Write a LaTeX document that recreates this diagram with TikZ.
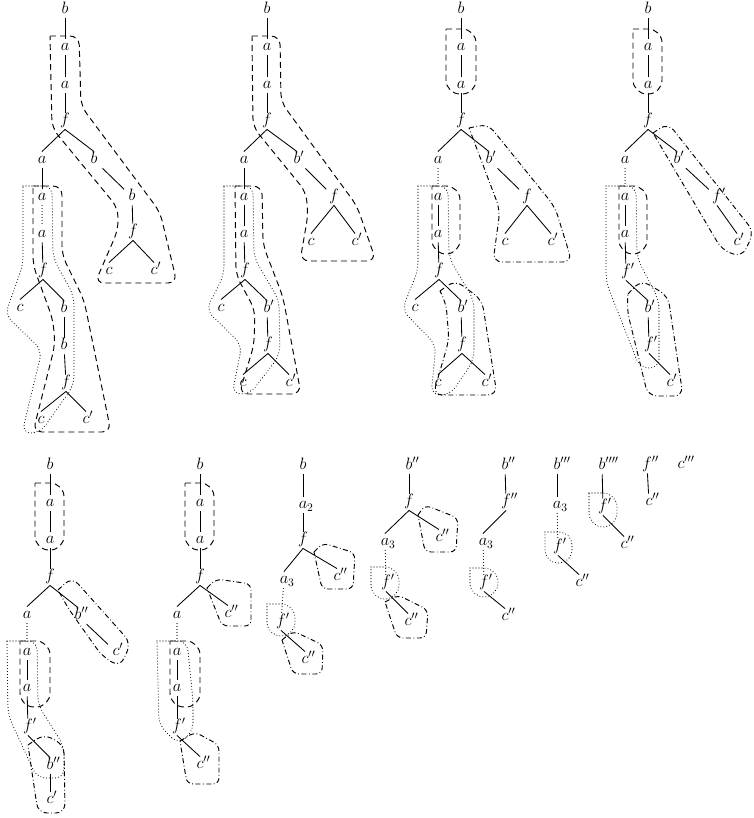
\RequirePackage{fix-cm}
\documentclass[tikz,border=0pt]{standalone}
\tikzset{
  tn/.style={inner sep=1pt, text height=11pt, text depth=3.5pt, font=\fontsize{16.5}{20}\selectfont},
  e/.style={line width=0.85pt},
  edot/.style={line width=1.1pt, line cap=round, dash pattern=on 0pt off 3pt},
  reg/.style={line width=0.95pt, rounded corners=9pt},
  sreg/.style={line width=0.95pt, rounded corners=6pt},
  dsh/.style={dash pattern=on 6pt off 4pt},
  dtt/.style={line cap=round, line width=1.1pt, dash pattern=on 0pt off 3pt},
  ddt/.style={dash pattern=on 5pt off 2.5pt on 0.8pt off 2.5pt},
  ov/.style={line width=0.95pt, rounded corners=14pt},
}
\newcommand\lbp[2]{$#1\rlap{$#2$}$}
\newcommand\tbr[2]{\draw[e] (#1.south) -- (#2.north);}
\newcommand\tch[2]{\draw[e] (#1) -- (#2);}
\newcommand\tdg[2]{\draw[e, shorten <=12pt, shorten >=11pt] (#1.center) -- (#2.center);}
\newcommand\tdt[2]{\draw[edot] (#1) -- (#2);}
\begin{document}
\begin{tikzpicture}[x=1pt,y=-1pt]
\useasboundingbox (0,0) rectangle (753,818);
% ---------- Tree 1
\node[tn] (A0) at (65,10) {$b$};
\node[tn] (A1) at (65,47) {$a$};
\node[tn] (A2) at (65,85) {$a$};
\node[tn] (A3) at (65,121) {$f$};
\node[tn] (A4) at (42,160) {$a$};
\node[tn] (A5) at (94,160) {$b$};
\node[tn] (A6) at (132,197) {$b$};
\node[tn] (A7) at (133,232) {$f$};
\node[tn] (A8) at (109,271) {$c$};
\node[tn] (A9) at (154,271) {\lbp{c}{'}};
\node[tn] (A10) at (42,197) {$a$};
\node[tn] (A11) at (42,234) {$a$};
\node[tn] (A12) at (43,271) {$f$};
\node[tn] (A13) at (20,308) {$c$};
\node[tn] (A14) at (64,309) {$b$};
\node[tn] (A15) at (64,346) {$b$};
\node[tn] (A16) at (66,383) {$f$};
\node[tn] (A17) at (41,420) {$c$};
\node[tn] (A18) at (86,420) {\lbp{c}{'}};
\tch{A0}{A1}\tch{A1}{A2}\tch{A2}{A3}\tbr{A3}{A4}\tbr{A3}{A5}\tdg{A5}{A6}\tch{A6}{A7}
\tbr{A7}{A8}\tbr{A7}{A9}\tch{A4}{A10}\tdt{A10}{A11}\tch{A11}{A12}\tbr{A12}{A13}\tbr{A12}{A14}
\tch{A14}{A15}\tch{A15}{A16}\tbr{A16}{A17}\tbr{A16}{A18}
\draw[reg,dsh] (50,36) -- (79,36) -- (81,106) -- (160,212) -- (177,283) -- (95,283) -- (118,230) -- (118,208) -- (52,128) -- (50,36);
\draw[reg,dsh] (33,186) -- (62,186) -- (62,255) -- (84,300) -- (111,432) -- (33,432) -- (55,345) -- (53,320) -- (33,265) -- (33,186);
\draw[reg,dtt] (23,186) -- (52,186) -- (53,258) -- (74,296) -- (74,385) -- (40,433) -- (22,433) -- (42,350) -- (5,315) -- (23,265) -- (23,186);
% ---------- Tree 2
\node[tn] (B0) at (267,10) {$b$};
\node[tn] (B1) at (267,47) {$a$};
\node[tn] (B2) at (267,85) {$a$};
\node[tn] (B3) at (267,121) {$f$};
\node[tn] (B4) at (244,160) {$a$};
\node[tn] (B5) at (297,160) {\lbp{b}{'}};
\node[tn] (B6) at (334,197) {$f$};
\node[tn] (B7) at (311,242) {$c$};
\node[tn] (B8) at (355,242) {\lbp{c}{'}};
\node[tn] (B9) at (244,197) {$a$};
\node[tn] (B10) at (244,234) {$a$};
\node[tn] (B11) at (245,271) {$f$};
\node[tn] (B12) at (221,308) {$c$};
\node[tn] (B13) at (267,309) {\lbp{b}{'}};
\node[tn] (B14) at (268,345) {$f$};
\node[tn] (B15) at (243,383) {$c$};
\node[tn] (B16) at (289,383) {\lbp{c}{'}};
\tch{B0}{B1}\tch{B1}{B2}\tch{B2}{B3}\tbr{B3}{B4}\tbr{B3}{B5}\tdg{B5}{B6}\tbr{B6}{B7}\tbr{B6}{B8}
\tch{B4}{B9}\tch{B9}{B10}\tch{B10}{B11}\tbr{B11}{B12}\tbr{B11}{B13}\tch{B13}{B14}\tbr{B14}{B15}\tbr{B14}{B16}
\draw[reg,dsh] (252,36) -- (280,36) -- (281,102) -- (357,206) -- (376,261) -- (300,261) -- (308,215) -- (306,192) -- (253,127) -- (252,36);
\draw[reg,dsh] (235,186) -- (262,186) -- (263,245) -- (283,297) -- (301,394) -- (239,394) -- (254,345) -- (255,310) -- (236,275) -- (235,186);
\draw[reg,dtt] (224,186) -- (253,186) -- (254,258) -- (279,300) -- (280,355) -- (250,394) -- (232,394) -- (242,345) -- (206,310) -- (224,275) -- (224,186);
% ---------- Tree 3
\node[tn] (C0) at (461,10) {$b$};
\node[tn] (C1) at (461,47) {$a$};
\node[tn] (C2) at (461,85) {$a$};
\node[tn] (C3) at (461,121) {$f$};
\node[tn] (C4) at (438,160) {$a$};
\node[tn] (C5) at (489,160) {\lbp{b}{'}};
\node[tn] (C6) at (527,197) {$f$};
\node[tn] (C7) at (505,242) {$c$};
\node[tn] (C8) at (551,242) {\lbp{c}{'}};
\node[tn] (C9) at (438,197) {$a$};
\node[tn] (C10) at (438,234) {$a$};
\node[tn] (C11) at (439,271) {$f$};
\node[tn] (C12) at (415,308) {$c$};
\node[tn] (C13) at (461,309) {\lbp{b}{'}};
\node[tn] (C14) at (462,345) {$f$};
\node[tn] (C15) at (438,383) {$c$};
\node[tn] (C16) at (485,383) {\lbp{c}{'}};
\tch{C0}{C1}\tch{C1}{C2}\tch{C2}{C3}\tbr{C3}{C4}\tbr{C3}{C5}\tdg{C5}{C6}\tbr{C6}{C7}\tbr{C6}{C8}
\tdt{C4}{C9}\tch{C9}{C10}\tch{C10}{C11}\tbr{C11}{C12}\tbr{C11}{C13}\tch{C13}{C14}\tbr{C14}{C15}\tbr{C14}{C16}
\draw[ov,dsh] (446,29) -- (476,29) -- (476,94) -- (446,94) -- (446,29);
\draw[reg,ddt] (469,128) -- (488,124) -- (555,207) -- (572,262) -- (493,262) -- (500,210) -- (469,128);
\draw[reg,dtt] (418,186) -- (448,186) -- (449,258) -- (474,300) -- (474,360) -- (450,395) -- (431,395) -- (436,345) -- (402,310) -- (418,270) -- (418,186);
\draw[ov,dsh] (432,186) -- (460,186) -- (460,254) -- (432,254) -- (432,186);
\draw[reg,ddt] (440,291) -- (455,280) -- (482,300) -- (497,395) -- (433,395) -- (449,340) -- (446,303) -- (440,291);
% ---------- Tree 4
\node[tn] (D0) at (648,10) {$b$};
\node[tn] (D1) at (648,47) {$a$};
\node[tn] (D2) at (648,85) {$a$};
\node[tn] (D3) at (648,121) {$f$};
\node[tn] (D4) at (625,160) {$a$};
\node[tn] (D5) at (677,160) {\lbp{b}{'}};
\node[tn] (D6) at (717,197) {\lbp{f}{'}};
\node[tn] (D7) at (737,242) {\lbp{c}{'}};
\node[tn] (D8) at (625,197) {$a$};
\node[tn] (D9) at (625,234) {$a$};
\node[tn] (D10) at (626,272) {\lbp{f}{'}};
\node[tn] (D11) at (648,309) {\lbp{b}{'}};
\node[tn] (D12) at (649,345) {\lbp{f}{'}};
\node[tn] (D13) at (670,383) {\lbp{c}{'}};
\tch{D0}{D1}\tch{D1}{D2}\tch{D2}{D3}\tbr{D3}{D4}\tbr{D3}{D5}\tdg{D5}{D6}\tbr{D6}{D7}
\tdt{D4}{D8}\tch{D8}{D9}\tch{D9}{D10}\tbr{D10}{D11}\tch{D11}{D12}\tbr{D12}{D13}
\draw[ov,dsh] (633,29) -- (662,29) -- (662,94) -- (633,94) -- (633,29);
\draw[reg,ddt] (653,133) -- (668,123) -- (754,232) -- (742,257) -- (722,250) -- (653,133);
\draw[reg,dtt] (606,186) -- (636,186) -- (637,258) -- (659,300) -- (659,368) -- (640,368) -- (606,282) -- (606,186);
\draw[ov,dsh] (619,186) -- (647,186) -- (647,254) -- (619,254) -- (619,186);
\draw[reg,ddt] (628,294) -- (641,280) -- (668,296) -- (683,396) -- (648,396) -- (627,310) -- (628,294);
% ---------- Tree 5
\node[tn] (E0) at (50,466) {$b$};
\node[tn] (E1) at (50,503) {$a$};
\node[tn] (E2) at (50,540) {$a$};
\node[tn] (E3) at (50,577) {$f$};
\node[tn] (E4) at (27,615) {$a$};
\node[tn] (E5) at (78,616) {\lbp{b}{''}};
\node[tn] (E6) at (116,652) {\lbp{c}{'}};
\node[tn] (E7) at (27,652) {$a$};
\node[tn] (E8) at (27,688) {$a$};
\node[tn] (E9) at (28,727) {\lbp{f}{'}};
\node[tn] (E10) at (50,766) {\lbp{b}{''}};
\node[tn] (E11) at (50,800) {\lbp{c}{'}};
\tch{E0}{E1}\tch{E1}{E2}\tch{E2}{E3}\tbr{E3}{E4}\tbr{E3}{E5}\tdg{E5}{E6}
\tdt{E4}{E7}\tch{E7}{E8}\tch{E8}{E9}\tbr{E9}{E10}\tch{E10}{E11}
\draw[ov,dsh] (35,483) -- (64,483) -- (64,550) -- (35,550) -- (35,483);
\draw[reg,ddt] (58,590) -- (72,577) -- (131,643) -- (120,667) -- (102,656) -- (68,608) -- (58,590);
\draw[reg,dtt] (7,641) -- (37,641) -- (38,705) -- (64,746) -- (64,778) -- (37,778) -- (8,715) -- (7,641);
\draw[ov,dsh] (20,641) -- (50,641) -- (50,707) -- (20,707) -- (20,641);
\draw[reg,ddt] (28,745) -- (44,734) -- (64,745) -- (65,813) -- (38,813) -- (28,745);
% ---------- Tree 6
\node[tn] (F0) at (200,466) {$b$};
\node[tn] (F1) at (200,503) {$a$};
\node[tn] (F2) at (200,540) {$a$};
\node[tn] (F3) at (200,577) {$f$};
\node[tn] (F4) at (177,615) {$a$};
\node[tn] (F5) at (228,614) {\lbp{c}{''}};
\node[tn] (F6) at (177,652) {$a$};
\node[tn] (F7) at (177,688) {$a$};
\node[tn] (F8) at (177,727) {\lbp{f}{'}};
\node[tn] (F9) at (200,765) {\lbp{c}{''}};
\tch{F0}{F1}\tch{F1}{F2}\tch{F2}{F3}\tbr{F3}{F4}\tbr{F3}{F5}
\tdt{F4}{F6}\tch{F6}{F7}\tch{F7}{F8}\tbr{F8}{F9}
\draw[ov,dsh] (185,483) -- (214,483) -- (214,550) -- (185,550) -- (185,483);
\draw[sreg,ddt] (207,588) -- (216,579) -- (251,584) -- (251,626) -- (222,626) -- (207,588);
\draw[reg,dtt] (157,641) -- (187,641) -- (193,700) -- (193,732) -- (178,744) -- (159,725) -- (157,641);
\draw[ov,dsh] (170,641) -- (200,641) -- (200,707) -- (170,707) -- (170,641);
\draw[sreg,ddt] (180,741) -- (195,732) -- (219,745) -- (219,784) -- (187,784) -- (180,741);
% ---------- Tree 7
\node[tn] (G0) at (303,466) {$b$};
\node[tn] (G1) at (303,505) {\lbp{a}{_2}};
\node[tn] (G2) at (303,540) {$f$};
\node[tn] (G3) at (284,580) {\lbp{a}{_3}};
\node[tn] (G4) at (337,577) {\lbp{c}{''}};
\node[tn] (G5) at (281,622) {\lbp{f}{'}};
\node[tn] (G6) at (305,660) {\lbp{c}{''}};
\tch{G0}{G1}\tch{G1}{G2}\tbr{G2}{G3}\tbr{G2}{G4}\tdt{G3}{G5}\tbr{G5}{G6}
\draw[sreg,ddt] (314,552) -- (323,543) -- (355,553) -- (353,589) -- (322,589) -- (314,552);
\draw[ov,dtt] (267,604) -- (295,604) -- (295,636) -- (267,636) -- (267,604);
\draw[sreg,ddt] (282,640) -- (293,631) -- (323,645) -- (322,674) -- (293,674) -- (282,640);
% ---------- Tree 8
\node[tn] (H0) at (409,466) {\lbp{b}{''}};
\node[tn] (H1) at (409,502) {$f$};
\node[tn] (H2) at (385,542) {\lbp{a}{_3}};
\node[tn] (H3) at (439,538) {\lbp{c}{''}};
\node[tn] (H4) at (386,583) {\lbp{f}{'}};
\node[tn] (H5) at (408,622) {\lbp{c}{''}};
\tch{H0}{H1}\tbr{H1}{H2}\tbr{H1}{H3}\tdt{H2}{H4}\tbr{H4}{H5}
\draw[sreg,ddt] (418,515) -- (425,505) -- (458,518) -- (456,552) -- (425,552) -- (418,515);
\draw[ov,dtt] (371,567) -- (399,567) -- (399,599) -- (371,599) -- (371,567);
\draw[sreg,ddt] (385,602) -- (398,595) -- (428,610) -- (426,638) -- (397,638) -- (385,602);
% ---------- Tree 9
\node[tn] (I0) at (505,466) {\lbp{b}{''}};
\node[tn] (I1) at (506,502) {\lbp{f}{''}};
\node[tn] (I2) at (483,542) {\lbp{a}{_3}};
\node[tn] (I3) at (484,583) {\lbp{f}{'}};
\node[tn] (I4) at (505,617) {\lbp{c}{''}};
\tch{I0}{I1}\tbr{I1}{I2}\tdt{I2}{I3}\tbr{I3}{I4}
\draw[ov,dtt] (470,568) -- (498,568) -- (498,597) -- (470,597) -- (470,568);
% ---------- Tree 10
\node[tn] (J0) at (557,466) {\lbp{b}{'''}};
\node[tn] (J1) at (557,505) {\lbp{a}{_3}};
\node[tn] (J2) at (558,547) {\lbp{f}{'}};
\node[tn] (J3) at (579,583) {\lbp{c}{''}};
\tch{J0}{J1}\tdt{J1}{J2}\tbr{J2}{J3}
\draw[ov,dtt,rounded corners=13pt] (545,532) -- (572,532) -- (572,563) -- (545,563) -- (545,532);
% ---------- Tree 11
\node[tn] (K0) at (602,466) {\lbp{b}{''''}};
\node[tn] (K1) at (603,507) {\lbp{f}{'}};
\node[tn] (K2) at (624,545) {\lbp{c}{''}};
\tch{K0}{K1}\tbr{K1}{K2}
\draw[ov,dtt] (589,493) -- (617,493) -- (617,527) -- (589,527) -- (589,493);
% ---------- Tree 12, 13
\node[tn] (L0) at (647,465) {\lbp{f}{''}};
\node[tn] (L1) at (649,502) {\lbp{c}{''}};
\tch{L0}{L1}
\node[tn] (M0) at (681,465) {\lbp{c}{'''}};
\end{tikzpicture}
\end{document}
